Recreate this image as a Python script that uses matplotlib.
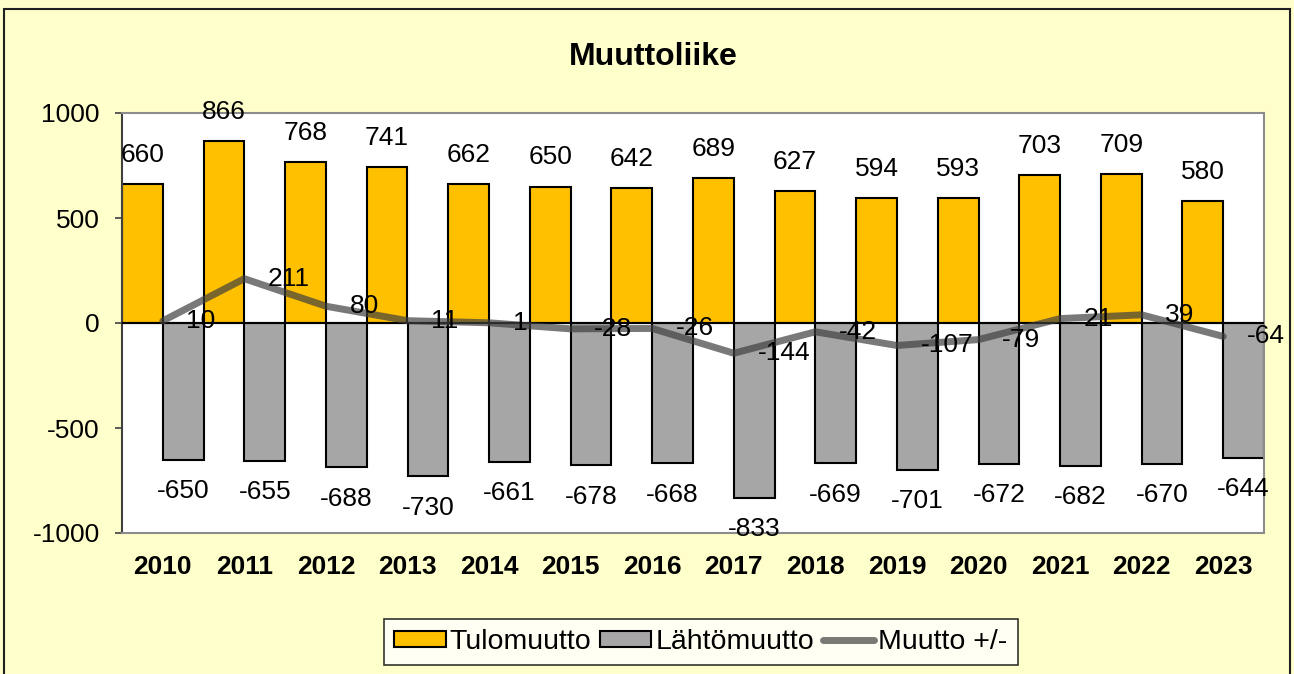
import matplotlib
matplotlib.use("Agg")
import matplotlib.pyplot as plt
import numpy as np
from matplotlib.patches import Rectangle, Patch
from matplotlib.lines import Line2D

plt.rcParams['font.family'] = ['Liberation Sans', 'DejaVu Sans']

years = ['2010', '2011', '2012', '2013', '2014', '2015', '2016',
         '2017', '2018', '2019', '2020', '2021', '2022', '2023']
tulomuutto = [660, 866, 768, 741, 662, 650, 642, 689, 627, 594, 593, 703, 709, 580]
lahtomuutto = [-650, -655, -688, -730, -661, -678, -668, -833, -669, -701, -672, -682, -670, -644]
nettomuutto = [10, 211, 80, 11, 1, -28, -26, -144, -42, -107, -79, 21, 39, -64]
yticks = [-1000, -500, 0, 500, 1000]

W, H = 1294, 674
fig = plt.figure(figsize=(W / 100, H / 100), dpi=100, facecolor='#FFFFCC')
ax = fig.add_axes([122 / W, 1 - 533 / H, (1264 - 122) / W, (533 - 113) / H])
ax.set_facecolor('white')

x = np.arange(len(years))
yellow = '#FFC000'
grey = '#A6A6A6'
ax.bar(x - 0.25, tulomuutto, width=0.5, color=yellow, edgecolor='black', linewidth=1.5, zorder=2)
ax.bar(x + 0.25, lahtomuutto, width=0.5, color=grey, edgecolor='black', linewidth=1.5, zorder=2)
ax.axhline(0, color='black', lw=1.5, zorder=3)
ax.plot(x, nettomuutto, color='#404040', alpha=0.7, lw=5, solid_capstyle='round', zorder=4)

fs = 19
for xi, v in zip(x, tulomuutto):
    ax.annotate(str(v), (xi - 0.25, v), xytext=(0, 21), textcoords='offset points',
                ha='center', va='center', fontsize=fs, zorder=5)
for xi, v in zip(x, lahtomuutto):
    ax.annotate(str(v), (xi + 0.25, v), xytext=(0, -22.5), textcoords='offset points',
                ha='center', va='center', fontsize=fs, zorder=5)
for xi, v in zip(x, nettomuutto):
    ax.annotate(str(v), (xi, v), xytext=(17, 0), textcoords='offset points',
                ha='left', va='center', fontsize=fs, zorder=5)

ax.set_xlim(-0.5, len(years) - 0.5)
ax.set_ylim(-1000, 1000)
ax.set_yticks(yticks)
ax.set_yticklabels([str(t) for t in yticks])
ax.tick_params(axis='y', direction='out', length=5, width=1.2, color='#404040',
               labelsize=fs, pad=11)
ax.set_xticks(x)
ax.set_xticklabels(years, fontweight='bold')
ax.tick_params(axis='x', length=0, labelsize=fs, pad=16)

for s in ['top', 'right', 'bottom']:
    ax.spines[s].set_color('#8C8C8C')
    ax.spines[s].set_linewidth(1.5)
ax.spines['left'].set_color('#404040')
ax.spines['left'].set_linewidth(1.5)

fig.text(653 / W, 1 - 57 / H, 'Muuttoliike', ha='center', va='center',
         fontsize=23, fontweight='bold')

handles = [Patch(facecolor=yellow, edgecolor='black', linewidth=1.5),
           Patch(facecolor=grey, edgecolor='black', linewidth=1.5),
           Line2D([0], [0], color='#404040', alpha=0.7, lw=5, solid_capstyle='round')]
leg = fig.legend(handles, ['Tulomuutto', 'Lähtömuutto', 'Muutto +/-'],
                 loc='center', bbox_to_anchor=(701 / W, 1 - 642 / H), ncol=3,
                 fontsize=20.5, frameon=True, fancybox=False, handlelength=1.8,
                 handleheight=0.5, handletextpad=0.15, columnspacing=0.3,
                 borderpad=0.35, borderaxespad=0)
leg.get_frame().set_edgecolor('black')
leg.get_frame().set_linewidth(1.2)
leg.get_frame().set_facecolor('white')

fig.patches.append(Rectangle((4 / W, -0.05), (1290 - 4) / W, 1 - 9 / H + 0.05,
                             transform=fig.transFigure, fill=False,
                             edgecolor='#202020', linewidth=1.5, clip_on=False))

fig.savefig('out.png', dpi=100, facecolor=fig.get_facecolor())
